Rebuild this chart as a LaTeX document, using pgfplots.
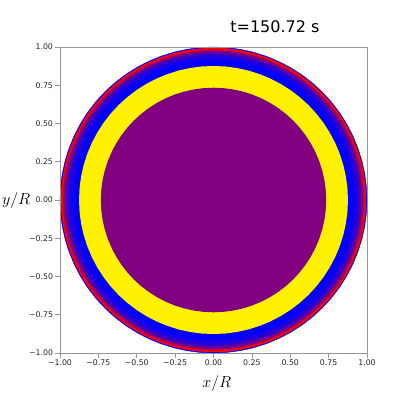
\RequirePackage{fix-cm}
\documentclass[border=0pt]{standalone}
\usepackage{fontspec}
\setmainfont{DejaVu Sans}
\usepackage{pgfplots}
\usepackage{pgfplotstable}
\pgfplotsset{compat=1.18}

\definecolor{mplpurple}{RGB}{128,0,128}
\definecolor{spine}{RGB}{150,150,150}

% unit circle, 5 degree steps
\pgfplotstableread{
x y
1.0000 0.0000
0.9962 0.0872
0.9848 0.1736
0.9659 0.2588
0.9397 0.3420
0.9063 0.4226
0.8660 0.5000
0.8192 0.5736
0.7660 0.6428
0.7071 0.7071
0.6428 0.7660
0.5736 0.8192
0.5000 0.8660
0.4226 0.9063
0.3420 0.9397
0.2588 0.9659
0.1736 0.9848
0.0872 0.9962
0.0000 1.0000
-0.0872 0.9962
-0.1736 0.9848
-0.2588 0.9659
-0.3420 0.9397
-0.4226 0.9063
-0.5000 0.8660
-0.5736 0.8192
-0.6428 0.7660
-0.7071 0.7071
-0.7660 0.6428
-0.8192 0.5736
-0.8660 0.5000
-0.9063 0.4226
-0.9397 0.3420
-0.9659 0.2588
-0.9848 0.1736
-0.9962 0.0872
-1.0000 0.0000
-0.9962 -0.0872
-0.9848 -0.1736
-0.9659 -0.2588
-0.9397 -0.3420
-0.9063 -0.4226
-0.8660 -0.5000
-0.8192 -0.5736
-0.7660 -0.6428
-0.7071 -0.7071
-0.6428 -0.7660
-0.5736 -0.8192
-0.5000 -0.8660
-0.4226 -0.9063
-0.3420 -0.9397
-0.2588 -0.9659
-0.1736 -0.9848
-0.0872 -0.9962
0.0000 -1.0000
0.0872 -0.9962
0.1736 -0.9848
0.2588 -0.9659
0.3420 -0.9397
0.4226 -0.9063
0.5000 -0.8660
0.5736 -0.8192
0.6428 -0.7660
0.7071 -0.7071
0.7660 -0.6428
0.8192 -0.5736
0.8660 -0.5000
0.9063 -0.4226
0.9397 -0.3420
0.9659 -0.2588
0.9848 -0.1736
0.9962 -0.0872
1.0000 0.0000
}\unitcircle

\newcommand{\ring}[2]{%
  \addplot[draw=none, fill=#2, no markers]
    table[x expr=#1*\thisrow{x}, y expr=#1*\thisrow{y}] {\unitcircle};}

\begin{document}
\begin{tikzpicture}
\useasboundingbox (-60pt,-44pt) rectangle (347pt,353pt);
\begin{axis}[
  scale only axis, width=307pt, height=306pt,
  xmin=-1, xmax=1, ymin=-1, ymax=1,
  clip=false, axis on top,
  axis line style={spine},
  tick style={spine, line width=0.6pt},
  tick align=outside, major tick length=4.5pt, tick pos=left,
  xtick={-1,-0.75,-0.5,-0.25,0,0.25,0.5,0.75,1},
  ytick={-1,-0.75,-0.5,-0.25,0,0.25,0.5,0.75,1},
  xticklabels={−1.00,−0.75,−0.50,−0.25,0.00,0.25,0.50,0.75,1.00},
  yticklabels={−1.00,−0.75,−0.50,−0.25,0.00,0.25,0.50,0.75,1.00},
  ticklabel style={font=\fontsize{7.8}{9}\selectfont, text=black!85},
  xticklabel style={yshift=1pt},
  yticklabel style={xshift=1pt},
  xlabel={$x/R$}, ylabel={$y/R$},
  label style={font=\fontsize{16}{19}\selectfont},
  xlabel style={at={(axis description cs:0.511,-0.101)}, anchor=center},
  ylabel style={at={(axis description cs:-0.143,0.5)}, anchor=center, rotate=-90},
]
\ring{1.000}{blue}
\ring{0.995}{red}
\ring{0.980}{red!55!blue}
\ring{0.965}{red!30!blue}
\ring{0.948}{red!14!blue}
\ring{0.930}{red!5!blue}
\ring{0.910}{blue}
\ring{0.876}{yellow}
\ring{0.734}{mplpurple}
\addplot[blue, line width=0.5pt, no markers] table {\unitcircle};
\node[font=\fontsize{16}{19}\selectfont, anchor=center]
  at (rel axis cs:0.700,1) [yshift=20pt] {t=150.72 s};
\end{axis}
\end{tikzpicture}
\end{document}
